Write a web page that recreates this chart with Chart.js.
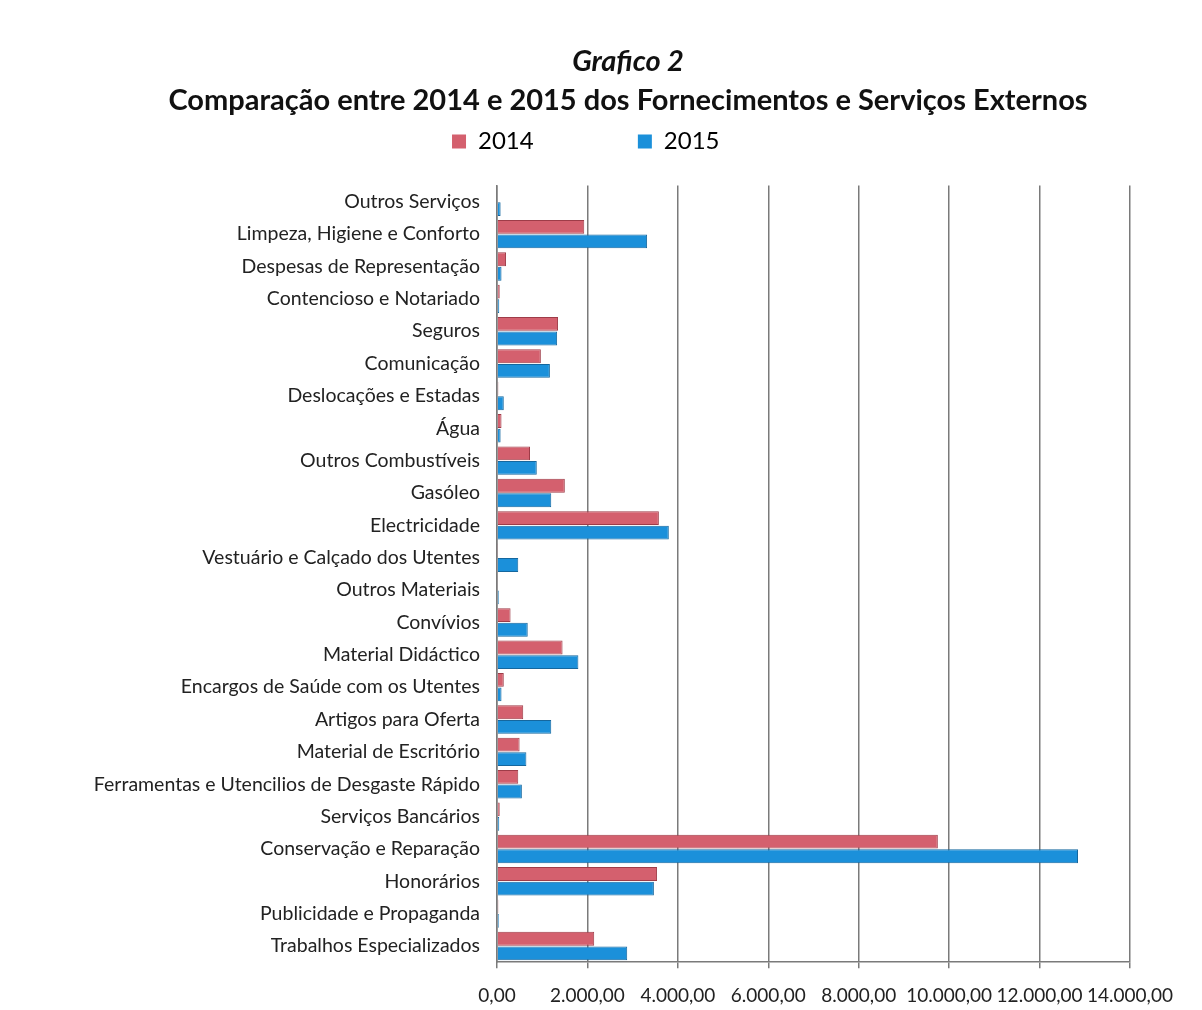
<!DOCTYPE html>
<html>
<head>
<meta charset="utf-8">
<script src="https://cdn.jsdelivr.net/npm/chart.js@4.4.1/dist/chart.umd.min.js"></script>
<style>
  body { margin: 0; background: #fff; }
  #wrap { width: 1202px; height: 1010px; }
</style>
</head>
<body>
<div id="wrap"><canvas id="myBarChart"></canvas></div>
<script>
// categories, top to bottom as in the picture
const categories = [
    'Outros Serviços',
    'Limpeza, Higiene e Conforto',
    'Despesas de Representação',
    'Contencioso e Notariado',
    'Seguros',
    'Comunicação',
    'Deslocações e Estadas',
    'Água',
    'Outros Combustíveis',
    'Gasóleo',
    'Electricidade',
    'Vestuário e Calçado dos Utentes',
    'Outros Materiais',
    'Convívios',
    'Material Didáctico',
    'Encargos de Saúde com os Utentes',
    'Artigos para Oferta',
    'Material de Escritório',
    'Ferramentas e Utencilios de Desgaste Rápido',
    'Serviços Bancários',
    'Conservação e Reparação',
    'Honorários',
    'Publicidade e Propaganda',
    'Trabalhos Especializados'
];
const values2014 = [0, 1930, 200, 60, 1350, 970, 30, 100, 730, 1500, 3580, 10, 20, 300, 1450, 150, 580, 500, 470, 60, 9750, 3540, 30, 2150];
const values2015 = [80, 3320, 100, 50, 1330, 1170, 150, 80, 880, 1200, 3800, 470, 40, 680, 1800, 100, 1200, 650, 550, 50, 12850, 3470, 40, 2880];
const seriesNames = ['2014', '2015'];

const fontFamily = 'Lato, "Liberation Sans", sans-serif';

// 0,00 / 2.000,00 style
function fmt(v) {
    const parts = v.toFixed(2).split('.');
    return parts[0].replace(/\B(?=(\d{3})+(?!\d))/g, '.') + ',' + parts[1];
}

// extra room between the legend and the plot, and titles moved a bit right
const layoutTweaks = {
    id: 'layoutTweaks',
    beforeLayout(chart) {
        const legend = chart.legend;
        if (!legend || legend._gapDone) return;
        const fit = legend.fit;
        legend.fit = function () {
            fit.call(this);
            this.height += 22;
        };
        legend._gapDone = true;
    },
    afterLayout(chart) {
        chart.boxes.forEach((b) => {
            if (b.options && typeof b.options.text === 'string') {
                b.left += 33;
                b.right += 33;
            }
        });
    }
};

const ctx = document.getElementById('myBarChart').getContext('2d');
const myBarChart = new Chart(ctx, {
    type: 'bar',
    data: {
        labels: categories,
        datasets: [{
            label: seriesNames[0],
            data: values2014,
            backgroundColor: '#d4606e',
            borderColor: '#9e3c48',
            borderWidth: 1
        }, {
            label: seriesNames[1],
            data: values2015,
            backgroundColor: '#1b90da',
            borderColor: '#15679e',
            borderWidth: 1
        }]
    },
    options: {
        indexAxis: 'y',
        responsive: true,
        maintainAspectRatio: false,
        animation: false,
        layout: {
            padding: { top: 44, left: 60, right: 72, bottom: -13 }
        },
        datasets: {
            bar: { categoryPercentage: 0.9, barPercentage: 0.95 }
        },
        scales: {
            x: {
                min: 0,
                max: 14000,
                ticks: {
                    stepSize: 2000,
                    color: '#222',
                    padding: 16,
                    maxRotation: 0,
                    minRotation: 0,
                    font: { family: fontFamily, size: 19 },
                    callback: (v) => fmt(v)
                },
                grid: { color: '#7a7a7a', lineWidth: 1.5, tickLength: 6 },
                border: { color: '#7a7a7a', width: 1.5 }
            },
            y: {
                ticks: {
                    color: '#222',
                    padding: 9,
                    font: { family: fontFamily, size: 19.5 },
                    autoSkip: false
                },
                grid: { display: false },
                border: { color: '#7a7a7a', width: 1.5 },
                afterFit: (scale) => { scale.width = 437; }
            }
        },
        plugins: {
            title: {
                display: true,
                text: 'Grafico 2',
                color: '#111',
                font: { family: fontFamily, size: 29, weight: 'bold', style: 'italic' },
                padding: { top: 0, bottom: 4 }
            },
            subtitle: {
                display: true,
                text: 'Comparação entre 2014 e 2015 dos Fornecimentos e Serviços Externos',
                color: '#111',
                font: { family: fontFamily, size: 29, weight: 'bold' },
                padding: { top: 0, bottom: 0 }
            },
            legend: {
                position: 'top',
                labels: {
                    color: '#222',
                    boxWidth: 14,
                    boxHeight: 14,
                    padding: 12,
                    font: { family: fontFamily, size: 24 },
                    generateLabels: (chart) => chart.data.datasets.map((ds, i) => ({
                        text: ds.label + '\u00A0'.repeat(i === 0 ? 15 : 3),
                        fillStyle: ds.backgroundColor,
                        strokeStyle: ds.backgroundColor,
                        lineWidth: 0,
                        datasetIndex: i,
                        hidden: !chart.isDatasetVisible(i)
                    }))
                }
            },
            tooltip: { enabled: false }
        }
    },
    plugins: [layoutTweaks]
});
</script>
</body>
</html>
